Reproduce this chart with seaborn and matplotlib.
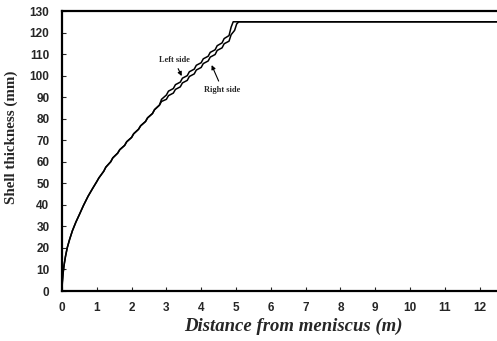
import matplotlib
matplotlib.use("Agg")
import matplotlib.pyplot as plt
import seaborn as sns
import pandas as pd

# ---- data ----
lower_x = [0, 0.01, 0.03, 0.06, 0.10, 0.15, 0.22, 0.30, 0.40, 0.50, 0.62, 0.75, 0.88, 1.00,
           1.06, 1.20, 1.26, 1.40, 1.46, 1.60, 1.66, 1.80, 1.86, 2.00, 2.06, 2.20, 2.26,
           2.40, 2.46, 2.60, 2.66, 2.80]
lower_y = [0, 4, 8, 12, 16, 20, 24, 28, 32, 35.5, 39.8, 44.0, 47.6, 50.8,
           52.5, 55.6, 57.5, 60.0, 61.8, 64.0, 65.6, 67.6, 69.3, 71.3, 73.0, 75.1, 76.7,
           78.7, 80.4, 82.4, 84.2, 86.3]

left_upper_x = [2.86, 3.00, 3.06, 3.20, 3.26, 3.40, 3.46, 3.60, 3.66, 3.80, 3.86, 4.00, 4.06,
                4.20, 4.26, 4.40, 4.46, 4.60, 4.66, 4.80, 4.86, 4.92, 12.5]
left_upper_y = [89.0, 91.0, 92.8, 94.0, 95.8, 97.0, 98.8, 100.0, 101.8, 103.0, 104.8, 106.0, 107.8,
                109.0, 110.8, 112.0, 113.9, 115.2, 117.2, 118.6, 122.5, 125.0, 125.0]

right_upper_x = [2.86, 3.00, 3.06, 3.20, 3.26, 3.40, 3.46, 3.60, 3.66, 3.80, 3.86, 4.00, 4.06,
                 4.20, 4.26, 4.40, 4.46, 4.60, 4.66, 4.80, 4.86, 4.96, 5.02, 5.08, 12.5]
right_upper_y = [88.0, 89.0, 90.7, 91.9, 93.6, 94.8, 96.6, 97.8, 99.6, 100.8, 102.6, 103.8, 105.6,
                 106.8, 108.6, 109.8, 111.7, 112.9, 114.8, 116.0, 119.0, 121.0, 124.0, 125.0, 125.0]

left_x = lower_x + left_upper_x
left_y = lower_y + left_upper_y
right_x = lower_x + right_upper_x
right_y = lower_y + right_upper_y

x_ticks = list(range(0, 13))
y_ticks = list(range(0, 131, 10))

df = pd.concat([
    pd.DataFrame({"x": left_x, "y": left_y, "side": "Left side"}),
    pd.DataFrame({"x": right_x, "y": right_y, "side": "Right side"}),
])

sns.set_style("ticks")
plt.rcParams["font.family"] = ["Liberation Sans", "DejaVu Sans"]

fig = plt.figure(figsize=(4.97, 3.41), dpi=100)
ax = fig.add_axes([0.1247, 0.1466, 0.8753, 0.8211])

for side in ["Left side", "Right side"]:
    sub = df[df["side"] == side]
    sns.lineplot(data=sub, x="x", y="y", sort=False, estimator=None, color="black",
                 linewidth=1.1, ax=ax)

ax.set_xlim(0, 12.5)
ax.set_ylim(0, 130)
ax.set_xticks(x_ticks)
ax.set_yticks(y_ticks)
ax.set_xticklabels([str(v) for v in x_ticks], fontsize=8.5, fontweight="bold")
ax.set_yticklabels([str(v) for v in y_ticks], fontsize=8.5, fontweight="bold")
ax.tick_params(direction="in", length=3, width=0.8, pad=8)
ax.tick_params(axis="y", pad=9)

for s in ["left", "bottom", "top"]:
    ax.spines[s].set_linewidth(1.6)
    ax.spines[s].set_color("black")
ax.spines["right"].set_visible(False)

ax.set_xlabel("Distance from meniscus (m)", fontsize=13.5, fontweight="bold", style="italic",
              family="Liberation Serif")
ax.set_ylabel("Shell thickness (mm)", fontsize=10.8, fontweight="bold",
              family="Liberation Serif")
ax.xaxis.set_label_coords(0.533, -0.097)
ax.yaxis.set_label_coords(-0.100, 0.55)

ax.annotate("Left side", xy=(3.44, 99.8), xytext=(3.22, 107.2), ha="center", va="center",
            fontsize=6, fontweight="bold", family="Liberation Serif",
            arrowprops=dict(arrowstyle="-|>", color="black", lw=0.8, mutation_scale=6,
                            shrinkA=1, shrinkB=0))
ax.annotate("Right side", xy=(4.30, 104.9), xytext=(4.61, 93.5), ha="center", va="center",
            fontsize=6, fontweight="bold", family="Liberation Serif",
            arrowprops=dict(arrowstyle="-|>", color="black", lw=0.8, mutation_scale=6,
                            shrinkA=1, shrinkB=0))

ax.set_facecolor("white")
fig.patch.set_facecolor("white")
fig.savefig("out.png", dpi=100)
